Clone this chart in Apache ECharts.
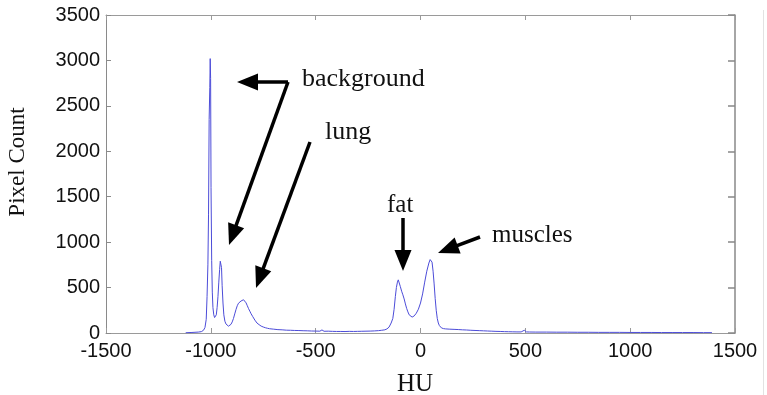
<!DOCTYPE html>
<html>
<head>
<meta charset="utf-8">
<script src="https://cdn.jsdelivr.net/npm/echarts@6/dist/echarts.min.js"></script>
<style>
  html, body { margin: 0; padding: 0; background: #fff; }
  #chart { width: 767px; height: 395px; }
</style>
</head>
<body>
<div id="chart"></div>
<script>
// ---- data ----
const hu = [
  -1120, -1090, -1060, -1045, -1035, -1028, -1022, -1018, -1014, -1011,
  -1008, -1005, -1003, -1001, -999, -996, -993, -990, -986, -982,
  -978, -974, -970, -966, -962, -958, -955, -952, -949, -946,
  -942, -938, -933, -928, -922, -916, -910, -904, -898, -892,
  -886, -880, -874, -868, -862, -856, -850, -844, -838, -832,
  -826, -820, -814, -808, -800, -790, -780, -770, -760, -750,
  -740, -730, -720, -700, -680, -660, -640, -620, -600, -580,
  -560, -540, -520, -500, -480, -470, -460, -440, -420, -400,
  -380, -360, -340, -320, -300, -280, -260, -240, -220, -200,
  -185, -170, -160, -150, -140, -132, -126, -120, -115, -110,
  -106, -102, -96, -90, -84, -78, -72, -66, -60, -54,
  -48, -40, -30, -20, -10, 0, 10, 20, 30, 40,
  46, 50, 55, 60, 65, 70, 75, 80, 85, 90,
  95, 100, 110, 120, 140, 160, 180, 200, 220, 240,
  260, 280, 300, 320, 340, 360, 380, 400, 420, 440,
  460, 480, 495, 505, 520, 550, 600, 650, 700, 750,
  800, 850, 900, 950, 1000, 1050, 1100, 1150, 1200, 1250,
  1300, 1350, 1390
];
const pixelCount = [
  3, 6, 10, 15, 30, 60, 150, 400, 750, 1300,
  2350, 2700, 3020, 2800, 1600, 800, 450, 280, 200, 170,
  165, 200, 280, 400, 560, 700, 790, 810, 720, 520,
  330, 200, 130, 100, 82, 75, 80, 95, 122, 160,
  210, 258, 300, 328, 348, 352, 362, 366, 345, 332,
  300, 268, 240, 212, 180, 142, 110, 92, 76, 66,
  58, 52, 47, 42, 37, 35, 31, 30, 28, 27,
  25, 24, 22, 21, 20, 34, 19, 20, 18, 17,
  17, 16, 18, 17, 18, 19, 20, 21, 23, 26,
  30, 35, 45, 65, 110, 160, 260, 400, 500, 560,
  585, 570, 510, 460, 420, 375, 320, 270, 232, 200,
  180, 175, 188, 218, 262, 330, 430, 560, 680, 770,
  808, 815, 780, 680, 540, 380, 250, 160, 110, 82,
  66, 56, 48, 45, 42, 40, 38, 35, 33, 30,
  28, 26, 24, 22, 20, 18, 17, 15, 14, 13,
  12, 12, 30, 12, 11, 10, 10, 9, 9, 8,
  8, 7, 7, 7, 6, 6, 6, 5, 5, 5,
  5, 4, 4
];
const xTicks = { min: -1500, max: 1500, step: 500 };
const yTicks = { min: 0, max: 3500, step: 500 };
const annotations = ['background', 'lung', 'fat', 'muscles'];
const xTitle = 'HU';
const yTitle = 'Pixel Count';

// ---- chart ----
const chart = echarts.init(document.getElementById('chart'), null, { renderer: 'canvas' });
const seriesData = hu.map((h, i) => [h, pixelCount[i]]);

const labelFont = { fontFamily: 'Liberation Sans, Arial, sans-serif', fontSize: 20, color: '#111',
  formatter: function (v) { return String(v); } };
const serif = 'Liberation Serif, Times New Roman, serif';

function arrow(x1, y1, x2, y2) {
  const L = 21, W = 8.5;
  const dx = x2 - x1, dy = y2 - y1;
  const len = Math.sqrt(dx * dx + dy * dy);
  const ux = dx / len, uy = dy / len;
  const bx = x2 - ux * L, by = y2 - uy * L;
  const px = -uy, py = ux;
  return [
    { type: 'line', shape: { x1: x1, y1: y1, x2: bx + ux * 2, y2: by + uy * 2 },
      style: { stroke: '#000', lineWidth: 3.5 }, z: 100 },
    { type: 'polygon', shape: { points: [[x2, y2], [bx + px * W, by + py * W], [bx - px * W, by - py * W]] },
      style: { fill: '#000' }, z: 100 }
  ];
}

function txt(s, x, y, size, align, rot) {
  return { type: 'text', x: x, y: y, rotation: rot || 0, z: 100,
    style: { text: s, font: size + 'px ' + serif, fill: '#111', align: align || 'left', verticalAlign: 'middle' } };
}

const graphics = [].concat(
  [{ type: 'line', shape: { x1: 763.5, y1: 10, x2: 763.5, y2: 395 }, style: { stroke: '#e2e2e2', lineWidth: 1 } }],
  arrow(288, 82, 237, 82),
  arrow(288, 82, 229, 245),
  arrow(310, 142, 256, 288),
  arrow(403, 218, 403, 271),
  arrow(480, 237, 438, 253),
  [
    txt(annotations[0], 302, 79, 26),
    txt(annotations[1], 325, 132, 26),
    txt(annotations[2], 387, 205, 25),
    txt(annotations[3], 492, 235, 25),
    txt(xTitle, 415, 384, 25, 'center'),
    txt(yTitle, 18, 162, 23, 'center', Math.PI / 2)
  ]
);

const option = {
  animation: false,
  backgroundColor: '#fff',
  grid: { left: 106, right: 32, top: 15, bottom: 62, containLabel: false },
  xAxis: [
    {
      type: 'value', min: xTicks.min, max: xTicks.max, interval: xTicks.step,
      position: 'bottom',
      axisLine: { show: true, onZero: false, lineStyle: { color: '#9a9a9a', width: 1 } },
      axisTick: { show: true, inside: true, length: 5, lineStyle: { color: '#9a9a9a' } },
      axisLabel: Object.assign({ margin: 8 }, labelFont),
      splitLine: { show: false }
    },
    {
      type: 'value', min: xTicks.min, max: xTicks.max, interval: xTicks.step,
      position: 'top',
      axisLine: { show: true, onZero: false, lineStyle: { color: '#9a9a9a', width: 1 } },
      axisTick: { show: true, inside: true, length: 5, lineStyle: { color: '#9a9a9a' } },
      axisLabel: { show: false },
      splitLine: { show: false }
    }
  ],
  yAxis: [
    {
      type: 'value', min: yTicks.min, max: yTicks.max, interval: yTicks.step,
      position: 'left',
      axisLine: { show: true, onZero: false, lineStyle: { color: '#8a8a8a', width: 1 } },
      axisTick: { show: true, inside: true, length: 5, lineStyle: { color: '#8a8a8a' } },
      axisLabel: Object.assign({ margin: 6 }, labelFont),
      splitLine: { show: false }
    },
    {
      type: 'value', min: yTicks.min, max: yTicks.max, interval: yTicks.step,
      position: 'right',
      axisLine: { show: true, onZero: false, lineStyle: { color: '#888', width: 1.5 } },
      axisTick: { show: true, inside: true, length: 7, lineStyle: { color: '#888', width: 1.5 } },
      axisLabel: { show: false },
      splitLine: { show: false }
    }
  ],
  series: [
    {
      type: 'line', xAxisIndex: 0, yAxisIndex: 0,
      data: seriesData, showSymbol: false, symbol: 'none',
      lineStyle: { color: '#4c4cd8', width: 1 },
      itemStyle: { color: '#4c4cd8' }
    }
  ],
  graphic: graphics
};
chart.setOption(option);
</script>
</body>
</html>
